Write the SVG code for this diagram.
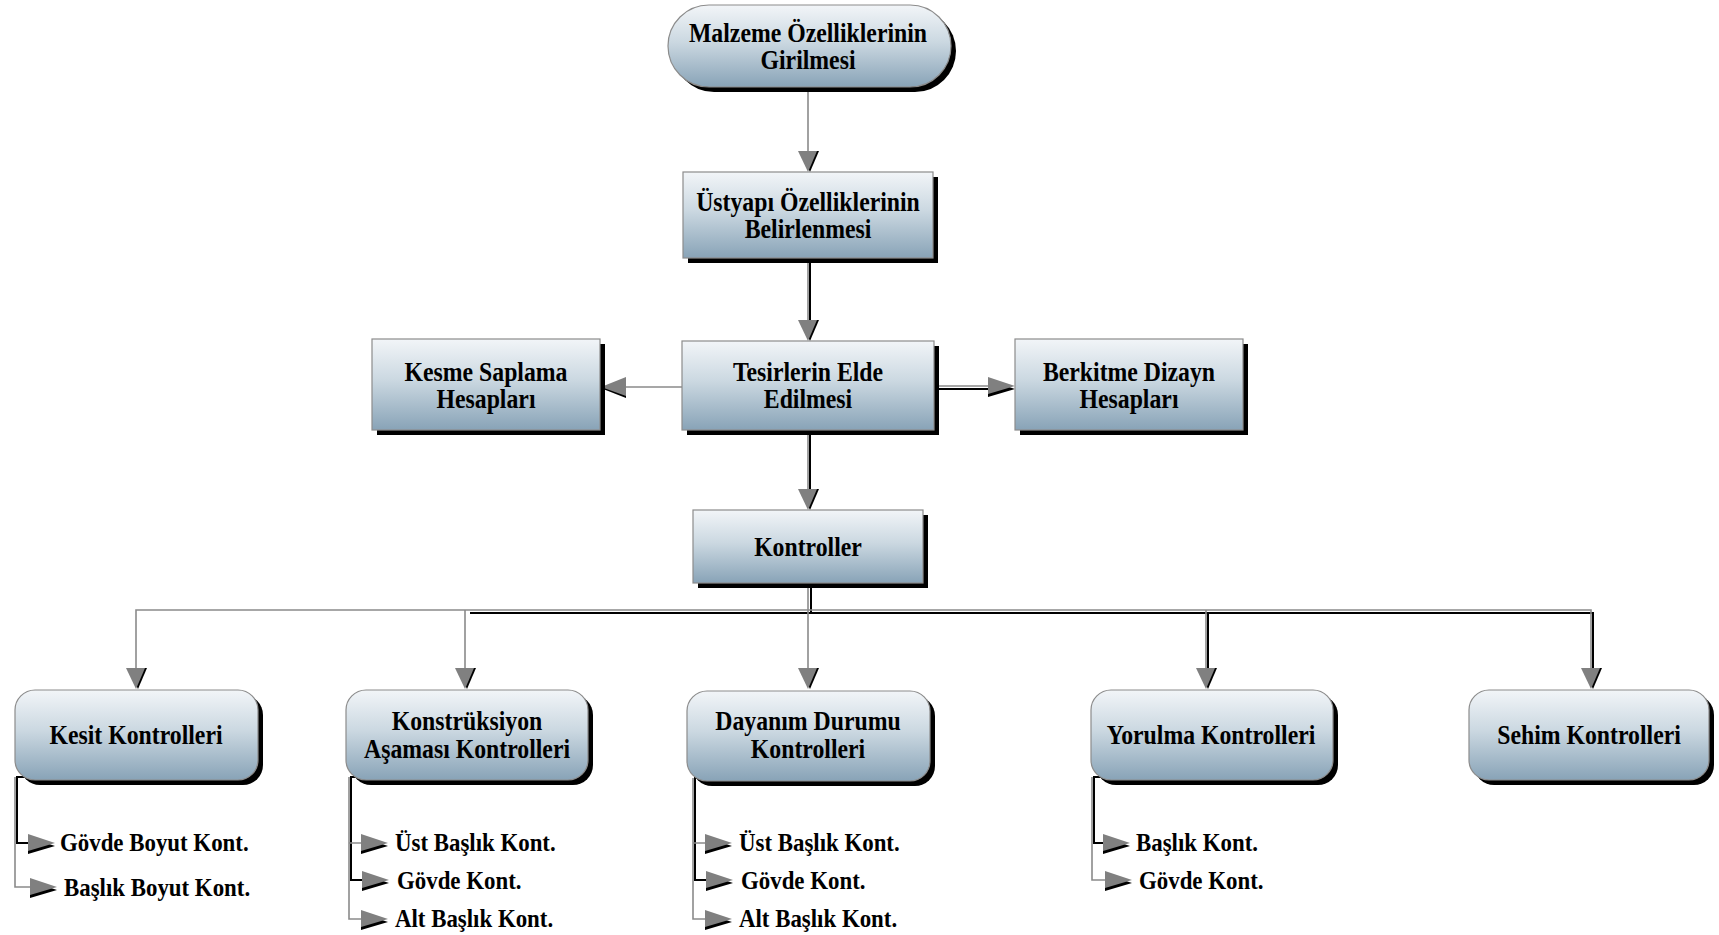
<svg xmlns="http://www.w3.org/2000/svg" xmlns:xlink="http://www.w3.org/1999/xlink" width="1719" height="935" viewBox="0 0 1719 935">
<defs>
<linearGradient id="g" x1="0" y1="0" x2="0" y2="1">
<stop offset="0" stop-color="#f2f5f8"/>
<stop offset="0.45" stop-color="#cbd8e1"/>
<stop offset="1" stop-color="#88a3b7"/>
</linearGradient>
<g id="aDown"><polygon points="-8,-21 11,-21 2,0" fill="#000"/><polygon points="-10,-21 9,-21 0,0" fill="#808080"/></g>
<g id="aRight"><polygon points="-27,-6 -27,11 0,3" fill="#000"/><polygon points="-27,-9 -27,8 0,0" fill="#808080"/></g>
<g id="aLeft"><polygon points="25,-8 25,11 2,2" fill="#000"/><polygon points="25,-10 25,9 0,0" fill="#808080"/></g>
<style>
.box{fill:url(#g);stroke:#8c8c8c;stroke-width:1.2}
.sh{fill:#000}
.t{font-family:"Liberation Serif","Times New Roman",serif;font-weight:bold;font-size:27px;fill:#000;text-anchor:middle}
.s{font-family:"Liberation Serif","Times New Roman",serif;font-weight:bold;font-size:26px;fill:#000}
.ln{fill:none;stroke:#8a8a8a;stroke-width:1.6}
.lk{fill:none;stroke:#000;stroke-width:2}
</style>
</defs>
<rect width="1719" height="935" fill="#fff"/>

<g id="connectors">
<path class="ln" d="M808 88V152"/>
<path class="lk" d="M810 262V322"/>
<path class="ln" d="M808 258V322"/>
<path class="ln" d="M682 387H626"/>
<path class="lk" d="M935 389H994"/>
<path class="ln" d="M935 386H994"/>
<path class="lk" d="M810 431V490"/>
<path class="ln" d="M808 431V490"/>
<path class="lk" d="M811 588V614"/>
<path class="lk" d="M470 613H1593V669"/>
<path class="ln" d="M808 583V669"/>
<path class="ln" d="M136 669V610H1591V669"/>
<path class="ln" d="M465 610V669"/>
<path class="lk" d="M1208 613V669"/>
<path class="ln" d="M1206 610V669"/>
<use xlink:href="#aDown" x="808" y="172"/>
<use xlink:href="#aDown" x="808" y="341"/>
<use xlink:href="#aLeft" x="601" y="387"/>
<use xlink:href="#aRight" x="1015" y="386"/>
<use xlink:href="#aDown" x="808" y="510"/>
<use xlink:href="#aDown" x="136" y="689"/>
<use xlink:href="#aDown" x="465" y="689"/>
<use xlink:href="#aDown" x="808" y="689"/>
<use xlink:href="#aDown" x="1206" y="689"/>
<use xlink:href="#aDown" x="1591" y="689"/>
<path class="lk" d="M26 777H17V843H28"/>
<path class="ln" d="M15 777V887H30"/>
<use xlink:href="#aRight" x="55" y="843"/>
<use xlink:href="#aRight" x="57" y="887"/>
<path class="lk" d="M360 777H351V880H362"/>
<path class="ln" d="M349 777V919H362M349 843H362"/>
<use xlink:href="#aRight" x="388" y="843"/>
<use xlink:href="#aRight" x="389" y="880"/>
<use xlink:href="#aRight" x="388" y="919"/>
<path class="lk" d="M704 778H695V880H706"/>
<path class="ln" d="M693 778V919H706M693 843H706"/>
<use xlink:href="#aRight" x="732" y="843"/>
<use xlink:href="#aRight" x="733" y="880"/>
<use xlink:href="#aRight" x="732" y="919"/>
<path class="lk" d="M1103 777H1094V843H1105"/>
<path class="ln" d="M1092 777V880H1105"/>
<use xlink:href="#aRight" x="1130" y="843"/>
<use xlink:href="#aRight" x="1132" y="880"/>
</g>

<g id="n1">
<rect class="sh" x="673" y="10" width="283" height="82" rx="41"/>
<rect class="box" x="668" y="5" width="283" height="82" rx="41"/>
<text class="t" font-size="28" transform="translate(808 0) scale(0.88 1)"><tspan x="0" y="42">Malzeme Özelliklerinin</tspan><tspan x="0" y="69">Girilmesi</tspan></text>
</g>
<g id="n2">
<rect class="sh" x="688" y="177" width="250" height="86"/>
<rect class="box" x="683" y="172" width="250" height="86"/>
<text class="t" transform="translate(808 0) scale(0.88 1)"><tspan x="0" y="211">Üstyapı Özelliklerinin</tspan><tspan x="0" y="238">Belirlenmesi</tspan></text>
</g>
<g id="n3">
<rect class="sh" x="377" y="344" width="228" height="91"/>
<rect class="box" x="372" y="339" width="228" height="91"/>
<text class="t" transform="translate(486 0) scale(0.88 1)"><tspan x="0" y="381">Kesme Saplama</tspan><tspan x="0" y="408">Hesapları</tspan></text>
</g>
<g id="n4">
<rect class="sh" x="687" y="346" width="252" height="89"/>
<rect class="box" x="682" y="341" width="252" height="89"/>
<text class="t" transform="translate(808 0) scale(0.88 1)"><tspan x="0" y="381">Tesirlerin Elde</tspan><tspan x="0" y="408">Edilmesi</tspan></text>
</g>
<g id="n5">
<rect class="sh" x="1020" y="344" width="228" height="91"/>
<rect class="box" x="1015" y="339" width="228" height="91"/>
<text class="t" transform="translate(1129 0) scale(0.88 1)"><tspan x="0" y="381">Berkitme Dizayn</tspan><tspan x="0" y="408">Hesapları</tspan></text>
</g>
<g id="n6">
<rect class="sh" x="698" y="515" width="230" height="73"/>
<rect class="box" x="693" y="510" width="230" height="73"/>
<text class="t" transform="translate(808 0) scale(0.88 1)" x="0" y="556">Kontroller</text>
</g>
<g id="n7">
<rect class="sh" x="20" y="695" width="243" height="90" rx="20"/>
<rect class="box" x="15" y="690" width="243" height="90" rx="20"/>
<text class="t" transform="translate(136 0) scale(0.88 1)" x="0" y="744">Kesit Kontrolleri</text>
</g>
<g id="n8">
<rect class="sh" x="351" y="695" width="242" height="90" rx="20"/>
<rect class="box" x="346" y="690" width="242" height="90" rx="20"/>
<text class="t" transform="translate(467 0) scale(0.88 1)"><tspan x="0" y="730">Konstrüksiyon</tspan><tspan x="0" y="758">Aşaması Kontrolleri</tspan></text>
</g>
<g id="n9">
<rect class="sh" x="692" y="696" width="243" height="90" rx="20"/>
<rect class="box" x="687" y="691" width="243" height="90" rx="20"/>
<text class="t" transform="translate(808 0) scale(0.88 1)"><tspan x="0" y="730">Dayanım Durumu</tspan><tspan x="0" y="758">Kontrolleri</tspan></text>
</g>
<g id="n10">
<rect class="sh" x="1096" y="695" width="242" height="90" rx="20"/>
<rect class="box" x="1091" y="690" width="242" height="90" rx="20"/>
<text class="t" transform="translate(1211 0) scale(0.88 1)" x="0" y="744">Yorulma Kontrolleri</text>
</g>
<g id="n11">
<rect class="sh" x="1474" y="695" width="240" height="90" rx="20"/>
<rect class="box" x="1469" y="690" width="240" height="90" rx="20"/>
<text class="t" transform="translate(1589 0) scale(0.88 1)" x="0" y="744">Sehim Kontrolleri</text>
</g>

<g id="sub-kesit">
<text class="s" transform="translate(60 0) scale(0.88 1)" x="0" y="851">Gövde Boyut Kont.</text>
<text class="s" transform="translate(64 0) scale(0.88 1)" x="0" y="896">Başlık Boyut Kont.</text>
</g>
<g id="sub-konstr">
<text class="s" transform="translate(395 0) scale(0.88 1)" x="0" y="851">Üst Başlık Kont.</text>
<text class="s" transform="translate(397 0) scale(0.88 1)" x="0" y="889">Gövde Kont.</text>
<text class="s" transform="translate(395 0) scale(0.88 1)" x="0" y="927">Alt Başlık Kont.</text>
</g>
<g id="sub-dayanim">
<text class="s" transform="translate(739 0) scale(0.88 1)" x="0" y="851">Üst Başlık Kont.</text>
<text class="s" transform="translate(741 0) scale(0.88 1)" x="0" y="889">Gövde Kont.</text>
<text class="s" transform="translate(739 0) scale(0.88 1)" x="0" y="927">Alt Başlık Kont.</text>
</g>
<g id="sub-yorulma">
<text class="s" transform="translate(1136 0) scale(0.88 1)" x="0" y="851">Başlık Kont.</text>
<text class="s" transform="translate(1139 0) scale(0.88 1)" x="0" y="889">Gövde Kont.</text>
</g>
</svg>
